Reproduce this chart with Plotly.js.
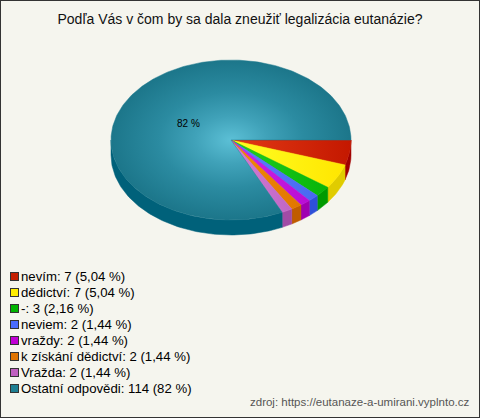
<!DOCTYPE html>
<html>
<head>
<meta charset="utf-8">
<script src="https://cdn.plot.ly/plotly-3.0.1.min.js"></script>
<style>html,body{margin:0;padding:0;background:#f5f5ee;}#chart{width:480px;height:418px;}</style>
</head>
<body>
<div id="chart"></div>
<script>
// ---- data ----
var categories = ["nevím", "dědictví", "-", "neviem", "vraždy", "k získání dědictví", "Vražda", "Ostatní odpovědi"];
var counts = [7, 7, 3, 2, 2, 2, 2, 114];
var percentLabels = ["5,04 %", "5,04 %", "2,16 %", "1,44 %", "1,44 %", "1,44 %", "1,44 %", "82 %"];
var titleText = "Podľa Vás v čom by sa dala zneužiť legalizácia eutanázie?";
var sourceText = "zdroj: https://eutanaze-a-umirani.vyplnto.cz";

// ---- styles ----
var topColors = ["#e23a16", "#ffff24", "#22cf22", "#5e80ff", "#d028e8", "#f48c06", "#d47ed4", "#2a8ea4"];
var topEdge   = ["#c41800", "#ffe600", "#08b408", "#4868f0", "#b80cd4", "#e07600", "#c066c6", "#1e7a8e"];
var sideColors = ["#a00000", "#e0cc00", "#009a00", "#2e50d8", "#a000b0", "#c05c00", "#a04ca6", "#00617a"];
var legendColors = ["#c41e00", "#ffee00", "#00b400", "#4a6cff", "#c000d4", "#e07400", "#c060c0", "#1e7f92"];

(function () {
  var cx = 231, cy = 140, rx = 120, ry = 80, depth = 15;

  var total = counts.reduce(function (a, b) { return a + b; }, 0);
  var traces = [];
  var angles = [];
  var acc = 0;
  for (var i = 0; i < counts.length; i++) {
    var a1 = acc / total * 2 * Math.PI;
    acc += counts[i];
    var a2 = acc / total * 2 * Math.PI;
    angles.push([a1, a2]);
  }

  function arc(b1, b2, dy) {
    var xs = [], ys = [];
    var n = Math.max(2, Math.ceil((b2 - b1) / (Math.PI / 180)));
    for (var k = 0; k <= n; k++) {
      var t = b1 + (b2 - b1) * k / n;
      xs.push(cx + rx * Math.cos(t));
      ys.push(cy + ry * Math.sin(t) + dy);
    }
    return {x: xs, y: ys};
  }

  // sides (front half only)
  for (var i = 0; i < counts.length; i++) {
    var s1 = Math.max(angles[i][0], 0), s2 = Math.min(angles[i][1], Math.PI);
    if (s2 <= s1) continue;
    var upper = arc(s1, s2, 0), lower = arc(s1, s2, depth);
    var xs = upper.x.concat(lower.x.slice().reverse());
    var ys = upper.y.concat(lower.y.slice().reverse());
    xs.push(xs[0]); ys.push(ys[0]);
    traces.push({type: "scatter", mode: "lines", x: xs, y: ys, fill: "toself",
      fillcolor: sideColors[i], line: {width: 0.5, color: sideColors[i]}, hoverinfo: "skip", showlegend: false});
  }
  // tops
  for (var i = 0; i < counts.length; i++) {
    var p = arc(angles[i][0], angles[i][1], 0);
    var xs = [cx].concat(p.x).concat([cx]);
    var ys = [cy].concat(p.y).concat([cy]);
    var tr = {type: "scatter", mode: "lines", x: xs, y: ys, fill: "toself",
      fillcolor: topColors[i], line: {width: 0.5, color: topEdge[i]}, hoverinfo: "skip", showlegend: false};
    if (i === counts.length - 1) {
      tr.fillgradient = {type: "radial", colorscale: [[0, "#5cc0d6"], [0.3, "#40a2b9"], [0.6, "#2b8ba1"], [1, "#1c768a"]]};
    } else {
      tr.fillgradient = {type: "horizontal", colorscale: [[0, topColors[i]], [1, topEdge[i]]]};
    }
    traces.push(tr);
  }

  var annotations = [];
  var last = counts.length - 1;
  var mid = (angles[last][0] + angles[last][1]) / 2;
  annotations.push({x: cx + rx * 0.42 * Math.cos(mid), y: cy + ry * 0.42 * Math.sin(mid) + 1,
    xref: "x", yref: "y", text: percentLabels[last], showarrow: false,
    font: {family: "Liberation Sans, Arial, sans-serif", size: 10, color: "#000"}});

  for (var i = 0; i < categories.length; i++) {
    var yy = 276 + i * 16;
    annotations.push({x: 14, y: yy, xref: "x", yref: "y", text: " ", showarrow: false,
      width: 7, height: 7, bgcolor: legendColors[i], bordercolor: "#333", borderwidth: 1, borderpad: 0,
      xanchor: "center", yanchor: "middle"});
    annotations.push({x: 19, y: yy, xref: "x", yref: "y", xanchor: "left", yanchor: "middle",
      text: categories[i] + ": " + counts[i] + " (" + percentLabels[i] + ")", showarrow: false,
      font: {family: "Liberation Sans, Arial, sans-serif", size: 13.2, color: "#000"}});
  }
  annotations.push({x: 471, y: 402, xref: "x", yref: "y", xanchor: "right", yanchor: "middle",
    text: sourceText, showarrow: false,
    font: {family: "Liberation Sans, Arial, sans-serif", size: 11.5, color: "#555"}});

  var layout = {
    width: 480, height: 418,
    margin: {l: 0, r: 0, t: 0, b: 0},
    paper_bgcolor: "#f5f5ee", plot_bgcolor: "rgba(0,0,0,0)",
    title: {text: titleText, x: 0.5, xanchor: "center", y: 1 - 19 / 418, yanchor: "middle",
      font: {family: "Liberation Sans, Arial, sans-serif", size: 14, color: "#111"}},
    xaxis: {range: [0, 480], visible: false, fixedrange: true},
    yaxis: {range: [418, 0], visible: false, fixedrange: true},
    showlegend: false,
    annotations: annotations,
    shapes: [{type: "rect", xref: "paper", yref: "paper", x0: 0, y0: 0, x1: 1, y1: 1,
      line: {color: "#333", width: 2}, fillcolor: "rgba(0,0,0,0)"}]
  };

  Plotly.newPlot("chart", traces, layout, {staticPlot: true, displayModeBar: false});
})();
</script>
</body>
</html>
